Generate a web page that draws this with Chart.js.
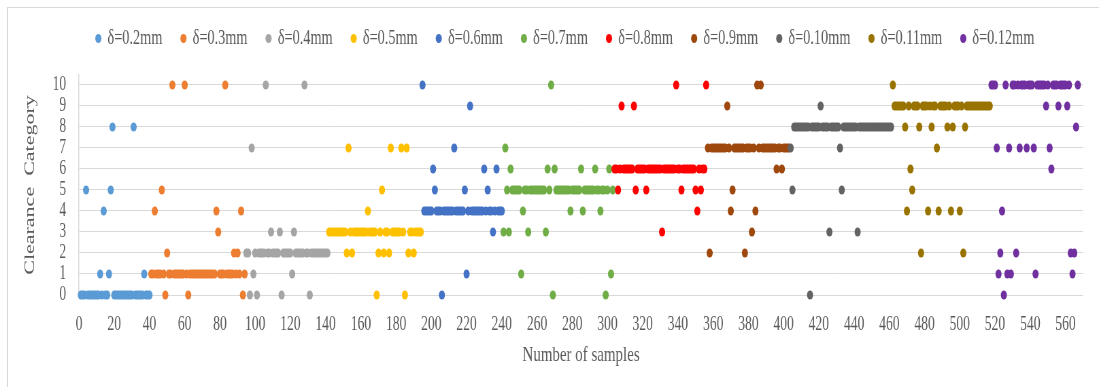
<!DOCTYPE html>
<html>
<head>
<meta charset="utf-8">
<script src="https://cdn.jsdelivr.net/npm/chart.js@4.4.1/dist/chart.umd.min.js"></script>
<style>
  html, body { margin: 0; padding: 0; background: #fff; overflow: hidden; }
  #frame { position: absolute; left: 7px; top: 7px; width: 1200px; height: 500px; border: 1px solid #d9d9d9; }
  /* the reference is horizontally squashed: draw wide, then scale down */
  #wrap { position: absolute; left: 0; top: 0; width: 1616px; height: 387px; transform: scaleX(0.68007); transform-origin: 0 0; }
</style>
</head>
<body>
<div id="frame"></div>
<div id="wrap"><canvas id="chart" width="1616" height="387"></canvas></div>
<script>
const seriesLabels = ['δ=0.2mm', 'δ=0.3mm', 'δ=0.4mm', 'δ=0.5mm', 'δ=0.6mm', 'δ=0.7mm',
    'δ=0.8mm', 'δ=0.9mm', 'δ=0.10mm', 'δ=0.11mm', 'δ=0.12mm'];
const seriesColors = ['#5B9BD5', '#ED7D31', '#A5A5A5', '#FFC000', '#4472C4', '#70AD47',
    '#FF0000', '#9E480E', '#636363', '#997300', '#7030A0'];

// first sample number of each series
const seriesStart = [1, 41, 95, 142, 195, 241, 304, 357, 404, 462, 518];

// clearance category of each consecutive sample
const cats02 = [0,0,0,5,0,0,0,0,0,0, 0,1,0,4,0,0,1,5,8,0, 0,0,0,0,0,0,0,0,0,0, 8,0,0,0,0,0,1,0,0,0];
const cats03 = [1,1,4,1,1,1,5,1,0,2, 1,1,10,1,1,1,1,1,1,10, 1,0,1,1,1,1,1,1,1,1,
    1,1,1,1,1,1,1,4,3,1, 1,1,10,1,1,1,1,2,1,2, 1,4,0,1];
const cats04 = [2,2,0,7,1,2, 0,2,2,2,2,10,2,2,3,2, 2,2,2,3,0,2,2,2,2,2,
    1,3,2,2,2,2,2,10,2,2, 0,2,2,2,2,2,2,2,2,2,2];
const cats05 = [3,3,3,3,3,3,3,3,3,3, 2,7,3,2,3,3,3,3,3, 3,3,3,4,3,3,3,3,0,2,
    3,5,2,3,3,2,7,3,3,3, 3,3,7,3,0,7,2,3,3,2, 3,3,3,3];
const cats06 = [10,4,4,4,4,4, 6,5,4,4,4,0,4,4,4,4, 4,4,7,4,4,4,4,4,5,1,
    4,9,4,4,4,4,4,4,4,6, 4,5,4,4,3,4,6,4,4,4];
const cats07 = [3,7,5,3,6,5,5,5,5,5, 1,4,5,5,3,5,5,5,5,5, 5,5,5,5,3,6,5,10,0,6,
    5,5,5,5,5,5,5,5,4,5, 5,5,5,5,6,4,5,5,5,5, 5,5,6,5,5,4,5,5,0,5, 6,1,5];
const cats08 = [6,6,5,6,9,6,6,6,6,6, 6,9,5,6,6,6,6,6,5,6, 6,6,6,6,6,6,6,3,6,6,
    6,6,6,6,6,10,6,6,5,6, 6,6,6,6,6,6,5,4,6,5, 6,6,10];
const cats09 = [7,2,7,7,7,7,7,7,7,7, 7,9,7,4,5,7,7,7,7,7, 7,2,7,7,7,3,7,4,10,7,
    10,7,7,7,7,7,7,7,7,6, 7,7,6,7,7,7,7];
const cats10 = [7,5,8,8,8,8,8,8,8,8, 8,0,8,8,8,8,8,9,8,8, 8,8,3,8,8,8,8,8,7,5,
    8,8,8,8,8,8,8,8,3,8, 8,8,8,8,8,8,8,8,8,8, 8,8,8,8,8,8,8,8];
const cats11 = [10,9,9,9,9,9,9,8,4,9, 6,5,9,9,9,8,2,9,9,9, 4,9,8,9,9,7,4,9,9,9,
    9,8,9,4,8,9,9,9,4,9, 2,8,9,9,9,9,9,9,9,9, 9,9,9,9,9,9];
const cats12 = [10,10,10,7,1,2,4,0,10,1, 7,1,10,10,2,10,7,10,10,10, 7,10,10,10,7,1,10,10,10,10,
    10,9,10,7,6,10,10,10,9,10, 10,10,10,9,10,2,1,2,8,10];
const seriesCats = [cats02, cats03, cats04, cats05, cats06, cats07, cats08, cats09, cats10, cats11, cats12];

const xTickValues = [0, 20, 40, 60, 80, 100, 120, 140, 160, 180, 200, 220, 240, 260, 280,
    300, 320, 340, 360, 380, 400, 420, 440, 460, 480, 500, 520, 540, 560];
const yTickValues = [0, 1, 2, 3, 4, 5, 6, 7, 8, 9, 10];

const FONT = "'Liberation Serif', 'Times New Roman', serif";
const TEXT = '#595959';

const datasets = seriesLabels.map((label, i) => ({
    label,
    data: seriesCats[i].map((c, k) => ({ x: seriesStart[i] + k, y: c })),
    backgroundColor: seriesColors[i],
    borderColor: seriesColors[i],
    pointRadius: 4.5,
    pointHoverRadius: 4.5,
    pointBorderWidth: 0,
    showLine: false,
    clip: false,
    order: -i          // later series on top, like Excel
}));

// extra room under the legend
const legendSpacer = {
    id: 'legendSpacer',
    afterInit(chart) {
        const fit = chart.legend.fit;
        chart.legend.fit = function () { fit.call(this); this.height += 16; };
    }
};

new Chart(document.getElementById('chart'), {
    type: 'scatter',
    data: { datasets },
    plugins: [legendSpacer],
    options: {
        responsive: false,
        animation: false,
        events: [],
        layout: { padding: { left: 70, right: 23.4, top: 0, bottom: 0 } },
        plugins: {
            tooltip: { enabled: false },
            legend: {
                position: 'top',
                labels: {
                    usePointStyle: true,
                    pointStyle: 'circle',
                    boxWidth: 6,
                    boxHeight: 6.4,
                    padding: 28,
                    color: TEXT,
                    font: { family: FONT, size: 21 },
                    sort: (a, b) => a.datasetIndex - b.datasetIndex
                }
            }
        },
        scales: {
            x: {
                type: 'linear',
                min: 0,
                max: 570,
                afterBuildTicks: s => { s.ticks = xTickValues.map(v => ({ value: v })); },
                afterFit: s => { s.height = 92; },
                grid: { display: false },
                border: { display: false },
                ticks: { padding: 10, color: TEXT, font: { family: FONT, size: 20 }, maxRotation: 0, autoSkip: false },
                title: {
                    display: true,
                    text: 'Number of samples',
                    color: TEXT,
                    font: { family: FONT, size: 22 },
                    padding: { top: 0, bottom: 18.8 }
                }
            },
            y: {
                min: 0,
                max: 10.476,
                afterBuildTicks: s => { s.ticks = yTickValues.map(v => ({ value: v })); },
                afterFit: s => { s.width = 46.2; },
                grid: { color: '#D9D9D9', lineWidth: 1, drawTicks: false },
                border: { display: true, color: '#D9D9D9', width: 1.5 },
                ticks: { padding: 19, color: TEXT, font: { family: FONT, size: 20 }, autoSkip: false },
                title: {
                    display: true,
                    text: 'Clearance  Category',
                    color: TEXT,
                    font: { family: FONT, size: 22 },
                    padding: { top: -39.2, bottom: 0 }
                }
            }
        }
    }
});
</script>
</body>
</html>
